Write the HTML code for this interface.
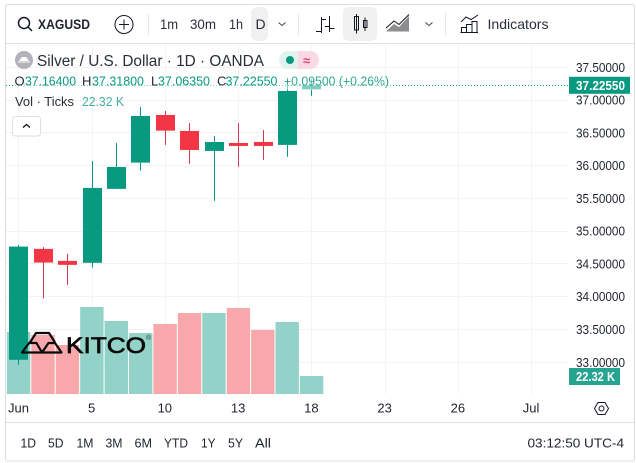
<!DOCTYPE html>
<html lang="en">
<head>
<meta charset="utf-8">
<title>XAGUSD chart</title>
<style>
html,body{margin:0;padding:0;background:#fff;width:636px;height:463px;overflow:hidden}
svg{display:block}
text{font-family:"Liberation Sans",Arial,sans-serif;fill:#1f232e;font-size:13px}
.tool{font-size:14px;fill:#2a2e39}
.teal{fill:#089981}
.ic{fill:none;stroke:#131722;stroke-width:1}
</style>
</head>
<body>
<svg id="chart" xmlns="http://www.w3.org/2000/svg" width="636" height="463" viewBox="0 0 636 463">
  <rect x="5.5" y="4.5" width="629" height="456.5" rx="2" fill="#fff" stroke="#dcdcdc"/>
  <g id="grid"></g>
  <g id="volumes"></g>
  <line id="lastLine" x1="6" x2="569" stroke="#089981" stroke-dasharray="1 2"/>
  <g id="candles"></g>
  <rect x="13" y="74" width="378" height="16" fill="#fff" fill-opacity="0.5"/>

  <g>
    <path d="M30 342.500 L36 333 H49 L55 342.500 M22 352.500 L29 343 H36.500 L42 352.500 Z M42 352.500 L48.500 343 H55 L61.500 352.500 Z" fill="none" stroke="#0b0b0b" stroke-width="2.200" stroke-linejoin="round"/>
    <text x="66" y="353" textLength="80" style="font-size:22.5px;fill:#0b0b0b;stroke:#0b0b0b;stroke-width:.7">KITCO</text>
    <text x="146" y="340" style="font-size:7px;fill:#333">®</text>
  </g>

  <g>
    <line x1="6" x2="634" y1="43.500" y2="43.500" stroke="#e0e0e0"/>
    <g><circle cx="24" cy="23" r="5.500" class="ic" style="stroke-width:1.500"/><line x1="28" y1="27" x2="32" y2="31" class="ic" style="stroke-width:1.500"/></g>
    <text x="38" y="29" textLength="52" style="font-size:14px;font-weight:700">XAGUSD</text>
    <g><circle cx="124" cy="24.500" r="9" class="ic"/><line x1="119" x2="129" y1="24.500" y2="24.500" class="ic"/><line x1="124" x2="124" y1="19.500" y2="29.500" class="ic"/></g>
    <line x1="148.500" x2="148.500" y1="14" y2="35" stroke="#e5e5e5"/>
    <text class="tool" x="160" y="29" textLength="18">1m</text>
    <text class="tool" x="190" y="29" textLength="26">30m</text>
    <text class="tool" x="229" y="29" textLength="14">1h</text>
    <rect x="251" y="7" width="17" height="34" rx="6" fill="#f0f0f0"/>
    <text class="tool" x="255.500" y="29">D</text>
    <path d="M278.500 22.500 L282 25.500 L285.500 22.500" class="ic" style="stroke:#444"/>
    <line x1="298.500" x2="298.500" y1="14" y2="35" stroke="#e5e5e5"/>
    <path d="M321.500 17 V33 M316 31.500 H321.500 M321.500 19.500 H326 M329.500 16 V32 M325 26.500 H329.500 M329.500 28.500 H334.500" class="ic"/>
    <rect x="343" y="7" width="34" height="34" rx="6" fill="#f0f0f0"/>
    <g><rect x="354.500" y="16.500" width="4" height="13.500" class="ic"/><line x1="356.500" x2="356.500" y1="14" y2="33.500" class="ic"/><rect x="363.500" y="20.500" width="3.500" height="7" class="ic"/><line x1="365" x2="365" y1="17.500" y2="31" class="ic"/></g>
    <g><path d="M386 31.500 L394 24 L399 27 L409 16 V31.500 Z" fill="#8d8d8d"/><path d="M386 28 L394 21 L399 24.500 L409 14.500" class="ic"/></g>
    <path d="M425.500 22.500 L429 25.500 L432.500 22.500" class="ic" style="stroke:#444"/>
    <line x1="445.500" x2="445.500" y1="13" y2="35" stroke="#e5e5e5"/>
    <g><path d="M461.500 32.500 V27.500 H466.500 V32.500 M466.500 32.500 V24.500 H472 V32.500 M472 32.500 V21.500 H477 V32.500 M460.500 32.500 H478" class="ic"/><path d="M461 22 L466 17 L471 19.500 L478 15" class="ic"/></g>
    <text class="tool" x="487.500" y="29" textLength="61">Indicators</text>
  </g>

  <g>
    <circle cx="24" cy="60" r="9" fill="#b3b1bb"/>
    <path d="M18 62 H30 M20 60.500 L22 57.500 H26 L28 60.500 Z" stroke="#fff" fill="#fff"/>
    <text x="37" y="66" textLength="227" style="font-size:15.500px;fill:#2a2e39">Silver / U.S. Dollar · 1D · OANDA</text>
    <path d="M298 51 H288 A9 9 0 0 0 288 69 H298 Z" fill="#e0f3ef"/>
    <path d="M298 51 H310 A9 9 0 0 1 310 69 H298 Z" fill="#fbd9e4"/>
    <circle cx="290" cy="60" r="4" fill="#089981"/>
    <text x="303" y="65" style="font-size:13px;fill:#e0457b;font-weight:700">≈</text>
    <text x="14.500" y="85.500">O</text>
    <text class="teal" x="25" y="85.500" textLength="51">37.16400</text>
    <text x="82" y="85.500">H</text>
    <text class="teal" x="92" y="85.500" textLength="52">37.31800</text>
    <text x="151" y="85.500">L</text>
    <text class="teal" x="158" y="85.500" textLength="52">37.06350</text>
    <text x="217" y="85.500">C</text>
    <text class="teal" x="225.500" y="85.500" textLength="52">37.22550</text>
    <text class="teal" x="284" y="85.500" textLength="105" style="fill-opacity:.85">+0.09500 (+0.26%)</text>
    <text x="15" y="106" textLength="59" style="font-size:13px;fill:#2a2e39">Vol · Ticks</text>
    <text x="82" y="106" textLength="42" style="fill:#44ae9e">22.32 K</text>
    <g>
      <rect x="12.500" y="116.500" width="28" height="19.500" rx="3" fill="#fff" stroke="#dedede"/>
      <path d="M23 127.500 L26.500 124.500 L30 127.500" class="ic" style="stroke-width:1.300"/>
    </g>
  </g>

  <g id="priceAxis"></g>
  <g id="timeAxis"></g>

  <g>
    <rect id="lastBadge" x="569" width="61" height="17" fill="#089981"/>
    <text id="lastText" x="576" textLength="49" style="fill:#fff;font-weight:700;font-size:13px"></text>
  </g>
  <g>
    <rect id="volBadge" x="569" width="51" height="17" fill="#26a491"/>
    <text id="volText" x="576" textLength="39" style="fill:#fff;font-weight:700;font-size:13px"></text>
  </g>

  <g>
    <path d="M594.500 408.500 L598 402.500 H605 L608.500 408.500 L605 414.500 H598 Z" class="ic"/>
    <circle cx="601.500" cy="408.500" r="2.500" class="ic"/>
  </g>

  <g>
    <line x1="6" x2="634" y1="422.500" y2="422.500" stroke="#e0e0e0"/>
    <text x="20.500" y="447.500" textLength="15.500">1D</text>
    <text x="48" y="447.500" textLength="15.500">5D</text>
    <text x="76.500" y="447.500" textLength="17">1M</text>
    <text x="105.500" y="447.500" textLength="17">3M</text>
    <text x="134.500" y="447.500" textLength="17.500">6M</text>
    <text x="164" y="447.500" textLength="24">YTD</text>
    <text x="201" y="447.500" textLength="14.500">1Y</text>
    <text x="228" y="447.500" textLength="15">5Y</text>
    <text x="255" y="447.500" textLength="16">All</text>
    <text x="527.500" y="447.500" textLength="96.500">03:12:50 UTC-4</text>
  </g>
</svg>

<script>
const opens   = [33.038,34.730,34.547,34.517,35.645,36.046,36.773,36.529,36.224,36.346,36.361,36.316,37.164];
const highs   = [34.787,34.756,34.654,36.072,36.346,36.895,36.834,36.651,36.453,36.651,36.544,37.306,37.318];
const lows    = [32.962,33.973,34.181,34.445,35.645,35.924,36.316,36.026,35.462,35.980,36.087,36.133,37.0635];
const closes  = [34.765,34.521,34.486,35.660,35.980,36.758,36.534,36.239,36.361,36.300,36.300,37.139,37.2255];
const volumes = [76.9,73.2,60.8,107.9,90.5,75.6,86.8,100.4,100.4,106.6,79.4,89.3,22.32];
const priceTicks = [37.5,37,36.5,36,35.5,35,34.5,34,33.5,33];
const timeTickSlots = [0,3,6,9,12,15,18,21];
const timeTickLabels = ["Jun","5","10","13","18","23","26","Jul"];
const lastPrice = 37.2255;
const lastVolumeLabel = "22.32 K";

const NS = "http://www.w3.org/2000/svg";
function xAt(i){ return 18.8 + 24.42 * i; }
function yPrice(p){ return 67.3 + (37.5 - p) * 65.55; }
function yVol(v){ return 394 - v * 18 / 22.32; }
function make(parent, tag, props){
  const el = document.createElementNS(NS, tag);
  for (const k in props) el.setAttribute(k, props[k]);
  parent.appendChild(el);
  return el;
}
function snap(v){ return Math.round(v - 0.5) + 0.5; }

const gridG = document.getElementById("grid");
priceTicks.forEach(function(p){
  const line = make(gridG, "line", {x1:6, x2:568, y1:snap(yPrice(p)), y2:snap(yPrice(p)), stroke:"#f2f3f5"});
  
  
});
timeTickSlots.forEach(function(s){
  const line = make(gridG, "line", {x1:snap(xAt(s)), x2:snap(xAt(s)), y1:44, y2:394, stroke:"#f2f3f5"});
  
  
});

const volG = document.getElementById("volumes");
volumes.forEach(function(v, i){
  const up = closes[i] >= opens[i];
  const bar = make(volG, "rect", {x:xAt(i)-11.9, y:yVol(v), width:23.4, height:394-yVol(v), fill: up ? "#93d2c8" : "#f8a8aa"});
  
  
});

const candleG = document.getElementById("candles");
opens.forEach(function(o, i){
  const c = closes[i];
  const color = c >= o ? "#089981" : "#f23645";
  const wick = make(candleG, "line", {x1:snap(xAt(i)), x2:snap(xAt(i)), y1:yPrice(highs[i]), y2:yPrice(lows[i]), stroke: c >= o ? "#089981" : "#d8394e"});
  
  
  const top = yPrice(Math.max(o, c));
  const bottom = yPrice(Math.min(o, c));
  const body = make(candleG, "rect", {x:snap(xAt(i))-9.5, y:top, width:19, height:Math.max(bottom-top, 1), fill:color});
  
  
});

const priceG = document.getElementById("priceAxis");
priceTicks.forEach(function(p){
  const t = make(priceG, "text", {x:576, y:yPrice(p)+4.5, textLength:49});
  t.textContent = p.toFixed(5);
  
  
});

const timeG = document.getElementById("timeAxis");
timeTickLabels.forEach(function(label, i){
  const first = i === 0;
  const t = make(timeG, "text", {x: first ? 8 : xAt(timeTickSlots[i]) - 0.5, y:412.5, "text-anchor": first ? "start" : "middle"});
  t.textContent = label;
  
  
});

const ly = yPrice(lastPrice);
const lastLine = document.getElementById("lastLine");
lastLine.setAttribute("y1", snap(ly));
lastLine.setAttribute("y2", snap(ly));
document.getElementById("lastBadge").setAttribute("y", ly - 8.5);
const lastText = document.getElementById("lastText");
lastText.setAttribute("y", ly + 4.5);
lastText.textContent = lastPrice.toFixed(5);

const vy = yVol(volumes[volumes.length - 1]);
document.getElementById("volBadge").setAttribute("y", vy - 8);
const volText = document.getElementById("volText");
volText.setAttribute("y", vy + 5);
volText.textContent = lastVolumeLabel;

document.querySelectorAll("text[textLength]").forEach(function(t){
  t.setAttribute("lengthAdjust", "spacingAndGlyphs");
});
</script>
</body>
</html>
